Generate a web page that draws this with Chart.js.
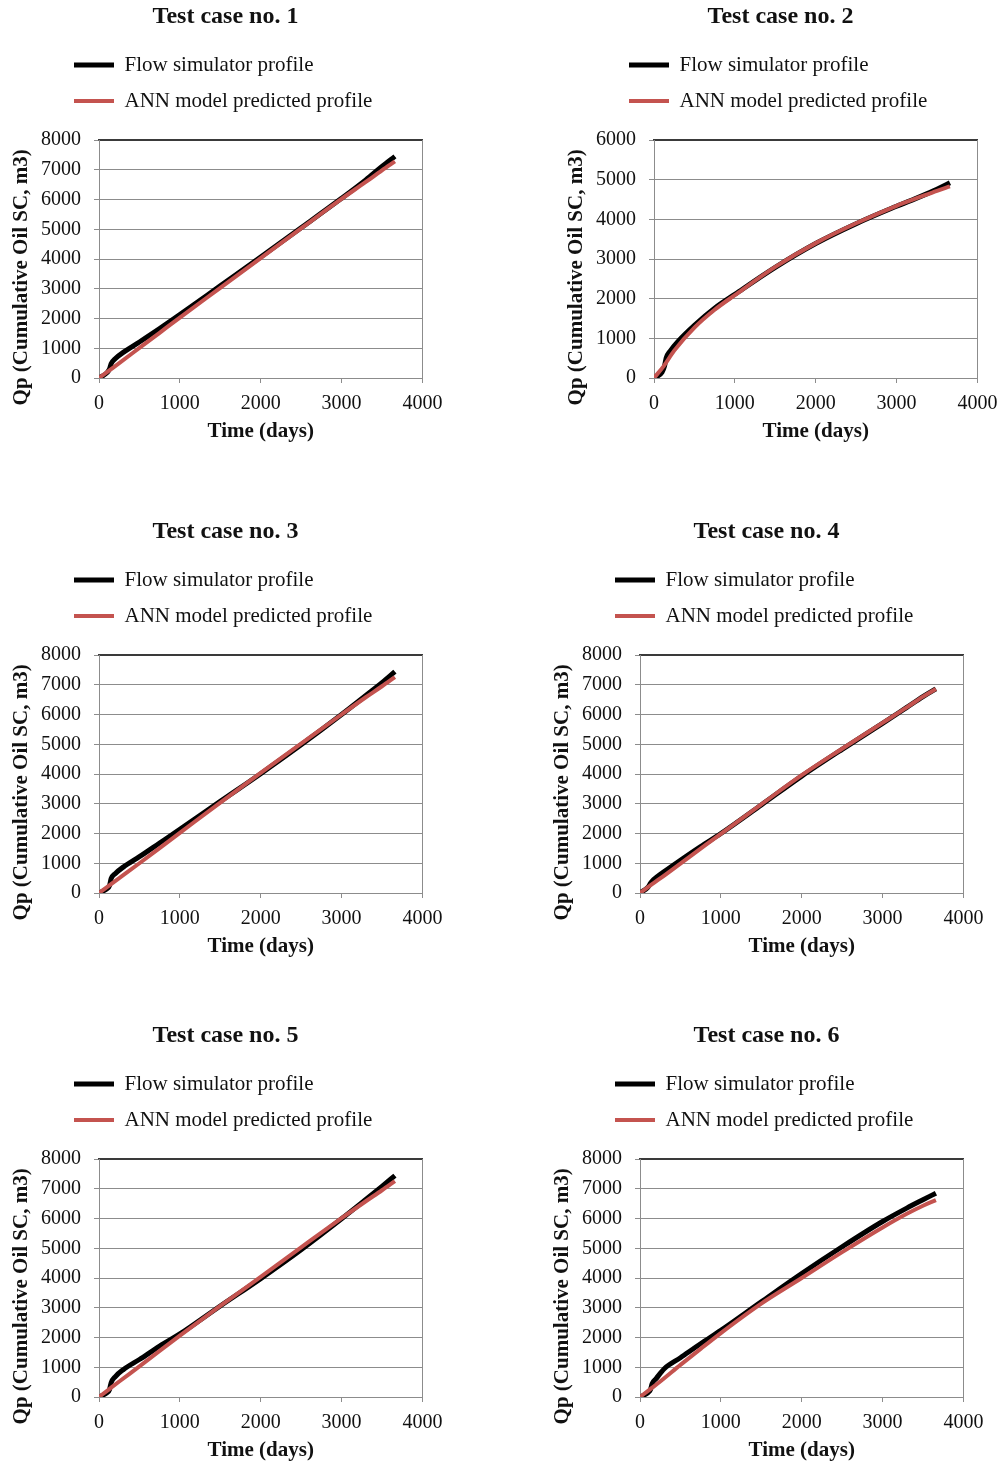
<!DOCTYPE html>
<html>
<head>
<meta charset="utf-8">
<script src="https://cdn.jsdelivr.net/npm/chart.js@4.4.1/dist/chart.umd.min.js"></script>
<style>
  html, body { margin: 0; padding: 0; background: #fff; overflow: hidden; }
  #page { position: relative; width: 1002px; height: 1467px; overflow: hidden; }
  canvas { position: absolute; }
</style>
</head>
<body>
<div id="page">
  <canvas id="c1" width="451" height="448" style="left:0px;top:0px"></canvas>
  <canvas id="c2" width="451" height="448" style="left:555px;top:0px"></canvas>
  <canvas id="c3" width="451" height="448" style="left:0px;top:515px"></canvas>
  <canvas id="c4" width="451" height="448" style="left:541px;top:515px"></canvas>
  <canvas id="c5" width="451" height="448" style="left:0px;top:1019px"></canvas>
  <canvas id="c6" width="451" height="448" style="left:541px;top:1019px"></canvas>
</div>
<script>
// time grids (days)
const simDays = [0, 100, 130, 150, 200, 300, 500, 750, 1000, 1500, 2000, 2500, 3000, 3300, 3500, 3660];
const annDays = [0, 120, 250, 500, 750, 1000, 1500, 2000, 2500, 3000, 3300, 3500, 3660];

// cumulative oil (m3), flow simulator
const sim1 = [0, 180, 300, 480, 650, 860, 1210, 1660, 2130, 3100, 4070, 5050, 6040, 6660, 7110, 7450];
const sim2 = [0, 150, 300, 500, 680, 930, 1330, 1760, 2110, 2790, 3390, 3890, 4330, 4580, 4760, 4920];
const sim3 = [0, 150, 250, 480, 650, 870, 1220, 1680, 2140, 3080, 4010, 4980, 6000, 6640, 7070, 7440];
const sim4 = [0, 200, 330, 400, 520, 720, 1100, 1560, 2000, 2960, 3930, 4830, 5700, 6240, 6600, 6860];
const sim5 = [0, 150, 250, 480, 680, 920, 1260, 1710, 2120, 3060, 3980, 4950, 5990, 6640, 7080, 7440];
const sim6 = [0, 150, 250, 450, 620, 950, 1320, 1790, 2240, 3200, 4150, 5050, 5900, 6350, 6630, 6850];

// cumulative oil (m3), ANN prediction
const ann1 = [0, 240, 500, 1010, 1520, 2030, 3030, 4030, 5030, 6020, 6590, 6980, 7280];
const ann2 = [0, 300, 690, 1270, 1720, 2090, 2800, 3400, 3900, 4340, 4570, 4720, 4830];
const ann3 = [0, 240, 500, 1000, 1510, 2020, 3040, 4040, 5020, 6000, 6580, 6950, 7260];
const ann4 = [0, 240, 490, 990, 1490, 1990, 2980, 3960, 4850, 5720, 6240, 6600, 6860];
const ann5 = [0, 250, 520, 1030, 1550, 2060, 3060, 4040, 5030, 6010, 6580, 6950, 7260];
const ann6 = [0, 250, 520, 1080, 1620, 2150, 3140, 4000, 4870, 5700, 6160, 6430, 6620];

const titles = ['Test case no. 1', 'Test case no. 2', 'Test case no. 3', 'Test case no. 4', 'Test case no. 5', 'Test case no. 6'];
const yMaxes = [8000, 6000, 8000, 8000, 8000, 8000];
const simSeries = [sim1, sim2, sim3, sim4, sim5, sim6];
const annSeries = [ann1, ann2, ann3, ann4, ann5, ann6];

const serif = '"Liberation Serif", "Times New Roman", serif';
const gridGray = '#8c8c8c';
// trailing nbsp's nudge the rotated title down, the original sits lower than centre
const yTitle = 'Qp (Cumulative Oil SC, m3)' + '\u00a0'.repeat(7);

// push the legend rows right so they start under the y axis labels, like the original
const legendShift = {
  id: 'legendShift',
  afterLayout(chart) {
    chart.legend.left += 59;
  }
};

function toXY(days, vals) {
  return days.map((d, i) => ({ x: d, y: vals[i] }));
}

function makeChart(i) {
  const yMax = yMaxes[i];
  new Chart(document.getElementById('c' + (i + 1)), {
    type: 'line',
    data: {
      datasets: [
        {
          label: 'Flow simulator profile',
          data: toXY(simDays, simSeries[i]),
          borderColor: '#000000',
          backgroundColor: '#000000',
          borderWidth: 5,
          pointRadius: 0,
          cubicInterpolationMode: 'monotone',
          order: 1
        },
        {
          label: 'ANN model predicted profile',
          data: toXY(annDays, annSeries[i]),
          borderColor: '#c4534f',
          backgroundColor: '#c4534f',
          borderWidth: 4,
          pointRadius: 0,
          cubicInterpolationMode: 'monotone',
          order: 0
        }
      ]
    },
    options: {
      responsive: false,
      animation: false,
      layout: { padding: 0 },
      plugins: {
        title: {
          display: true,
          text: titles[i],
          color: '#111',
          font: { family: serif, size: 24, weight: 'bold' },
          padding: { top: 2.6, bottom: 8.1 }
        },
        legend: {
          display: true,
          align: 'start',
          labels: {
            usePointStyle: true,
            pointStyle: 'line',
            pointStyleWidth: 40,
            padding: 15,
            color: '#111',
            font: { family: serif, size: 21 },
            sort: (a, b) => a.datasetIndex - b.datasetIndex
          }
        },
        tooltip: { enabled: false }
      },
      scales: {
        x: {
          type: 'linear',
          min: 0,
          max: 4000,
          ticks: {
            stepSize: 1000, padding: 8.6, color: '#111',
            font: { family: serif, size: 20 },
            callback: (v) => String(v)
          },
          grid: { color: 'rgba(0,0,0,0)', tickLength: 5, tickColor: gridGray },
          border: { color: gridGray, width: 1 },
          title: {
            display: true,
            text: 'Time (days)',
            color: '#111',
            font: { family: serif, size: 21, weight: 'bold' },
            padding: { top: 0, bottom: 3.4 }
          },
          afterFit(s) { s.height = 70; }
        },
        xTop: {
          type: 'linear',
          position: 'top',
          min: 0,
          max: 4000,
          ticks: { display: false },
          grid: { display: true, drawOnChartArea: false, drawTicks: false },
          border: { display: true, color: '#3a3a3a', width: 1.5 },
          afterFit(s) { s.height = 18.5; }
        },
        y: {
          type: 'linear',
          min: 0,
          max: yMax,
          ticks: {
            stepSize: 1000, padding: 13, color: '#111',
            font: { family: serif, size: 20 },
            callback: (v) => String(v)
          },
          grid: {
            color: (c) => (c.tick && c.tick.value === yMax ? '#3a3a3a' : gridGray),
            tickLength: 5,
            tickColor: gridGray
          },
          border: { color: gridGray, width: 1 },
          title: {
            display: true,
            text: yTitle,
            color: '#111',
            font: { family: serif, size: 21, weight: 'bold' },
            padding: { top: 9.4, bottom: 0 }
          },
          afterFit(s) { s.width = 99; }
        },
        yRight: {
          type: 'linear',
          position: 'right',
          min: 0,
          max: yMax,
          ticks: { display: false },
          grid: { display: true, drawOnChartArea: false, drawTicks: false },
          border: { display: true, color: gridGray, width: 1 },
          afterFit(s) { s.width = 23; }
        }
      }
    },
    plugins: [legendShift]
  });
}

for (let i = 0; i < 6; i++) makeChart(i);
</script>
</body>
</html>
